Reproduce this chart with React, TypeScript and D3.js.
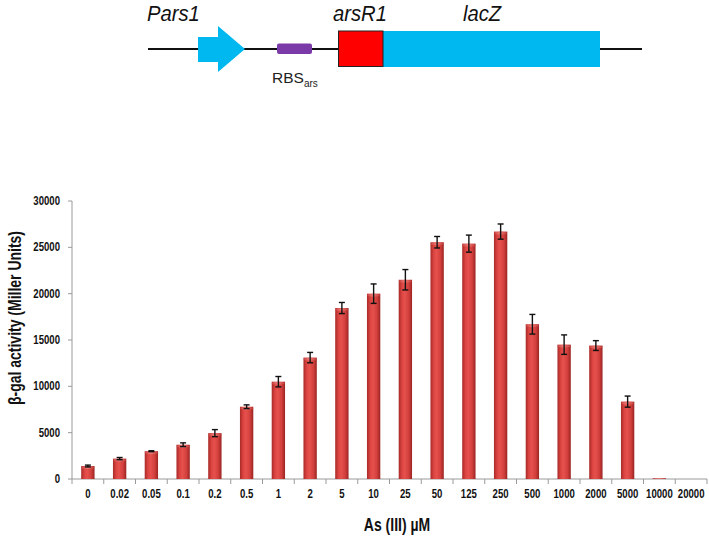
import React from "react";
import * as d3 from "d3";

const categories = ["0","0.02","0.05","0.1","0.2","0.5","1","2","5","10","25","50","125","250","500","1000","2000","5000","10000","20000"];
const activity = [1400,2200,3000,3700,4950,7800,10500,13100,18450,20000,21500,25550,25400,26700,16700,14500,14400,8350,80,0];
const errors = [100,120,50,200,380,200,560,560,600,1050,1100,620,920,820,1060,1050,530,600,0,0];
const yTicks = [0,5000,10000,15000,20000,25000,30000];

const W = 709, H = 536;
const plotLeft = 72, plotRight = 707, plotTop = 201, plotBottom = 479;
const sans = "'Liberation Sans',Arial,sans-serif";

function NText(props: { x: number; y: number; size: number; anchor?: string; rotate?: number; children: React.ReactNode }) {
  const { x, y, size, anchor = "start", rotate = 0, children } = props;
  return (
    <g transform={`translate(${x},${y}) rotate(${rotate}) scale(0.8,1)`}>
      <text x={0} y={0} textAnchor={anchor} fontFamily={sans} fontWeight="bold" fontSize={size} fill="#111">{children}</text>
    </g>
  );
}

export default function App() {
  const xOuter = d3.scaleBand<string>().domain(categories).range([plotLeft, plotRight]).padding(0);
  const x = d3.scaleBand<string>().domain(categories).range([plotLeft, plotRight]).paddingInner(0.58).paddingOuter(0.29);
  const y = d3.scaleLinear().domain([0, 30000]).range([plotBottom, plotTop]);
  const bw = x.bandwidth();
  const axisColor = "#9a9a9a";

  return (
    <svg width={W} height={H} style={{ position: "absolute", left: 0, top: 0, background: "#fff" }}>
      <defs>
        <linearGradient id="barGrad" x1="0" x2="1" y1="0" y2="0">
          <stop offset="0%" stopColor="#a82a28" />
          <stop offset="25%" stopColor="#dc4542" />
          <stop offset="45%" stopColor="#e6514d" />
          <stop offset="75%" stopColor="#d23f3c" />
          <stop offset="100%" stopColor="#9a2422" />
        </linearGradient>
        <linearGradient id="capGrad" x1="0" x2="1" y1="0" y2="0">
          <stop offset="0%" stopColor="#c84340" />
          <stop offset="45%" stopColor="#f07a76" />
          <stop offset="100%" stopColor="#c13b38" />
        </linearGradient>
      </defs>

      {/* Gene construct diagram */}
      <g>
        <line x1={148} x2={642} y1={49} y2={49} stroke="#111" strokeWidth={2} />
        <path d="M198,37 L218,37 L218,26 L245,49 L218,72 L218,62 L198,62 Z" fill="#00b8f0" />
        <rect x={277} y={43.5} width={35} height={10.5} rx={2} fill="#7a3aa8" />
        <rect x={383} y={31} width={217} height={36} fill="#00b8f0" />
        <rect x={338.5} y={31} width={44.5} height={35.5} fill="#ff0000" stroke="#222" strokeWidth={1} />
        <g transform="translate(147,21) scale(0.92,1)">
          <text x={0} y={0} fontFamily={sans} fontStyle="italic" fontSize={22} fill="#111">Pars1</text>
        </g>
        <g transform="translate(333,21) scale(0.92,1)">
          <text x={0} y={0} fontFamily={sans} fontStyle="italic" fontSize={22} fill="#111">arsR1</text>
        </g>
        <g transform="translate(463,21) scale(0.92,1)">
          <text x={0} y={0} fontFamily={sans} fontStyle="italic" fontSize={22} fill="#111">lacZ</text>
        </g>
        <text x={272} y={83} fontFamily={sans} fontSize={15.5} fill="#222">RBS<tspan fontSize={10} dy={4}>ars</tspan></text>
      </g>

      {/* Axes */}
      <line x1={plotLeft} x2={plotLeft} y1={plotTop} y2={plotBottom} stroke={axisColor} strokeWidth={1} />
      <line x1={plotLeft} x2={plotRight} y1={plotBottom} y2={plotBottom} stroke={axisColor} strokeWidth={1} />
      {yTicks.map((t) => (
        <g key={t}>
          <line x1={plotLeft - 4} x2={plotLeft} y1={y(t)} y2={y(t)} stroke={axisColor} />
          <NText x={60} y={y(t) + 4} size={12} anchor="end">{t}</NText>
        </g>
      ))}
      {categories.map((c) => (
        <line key={"t" + c} x1={(xOuter(c) as number)} x2={(xOuter(c) as number)} y1={plotBottom} y2={plotBottom + 5} stroke={axisColor} />
      ))}
      <line x1={plotRight} x2={plotRight} y1={plotBottom} y2={plotBottom + 5} stroke={axisColor} />
      {categories.map((c) => (
        <NText key={"l" + c} x={(xOuter(c) as number) + xOuter.bandwidth() / 2} y={498} size={12} anchor="middle">{c}</NText>
      ))}

      {/* Bars */}
      {categories.map((c, i) => {
        const v = activity[i];
        if (v <= 0) return null;
        const x0 = x(c) as number;
        const top = y(v);
        const h = plotBottom - top;
        const capH = Math.min(3, h / 2);
        return (
          <g key={"b" + c}>
            <rect x={x0} y={top} width={bw} height={h} fill="url(#barGrad)" />
            <ellipse cx={x0 + bw / 2} cy={top + capH / 2} rx={bw / 2} ry={capH / 2} fill="url(#capGrad)" />
          </g>
        );
      })}

      {/* Error bars */}
      {categories.map((c, i) => {
        const e = errors[i];
        if (e <= 0) return null;
        const cx = (x(c) as number) + bw / 2;
        const v = activity[i];
        return (
          <g key={"e" + c} stroke="#111" strokeWidth={1.4}>
            <line x1={cx} x2={cx} y1={y(v + e)} y2={y(v - e)} />
            <line x1={cx - 3} x2={cx + 3} y1={y(v + e)} y2={y(v + e)} />
            <line x1={cx - 3} x2={cx + 3} y1={y(v - e)} y2={y(v - e)} />
          </g>
        );
      })}

      {/* Axis titles */}
      <NText x={21} y={318} size={17.5} anchor="middle" rotate={-90}>β-gal activity (Miller Units)</NText>
      <NText x={397} y={531} size={17.5} anchor="middle">As (III) µM</NText>
    </svg>
  );
}
